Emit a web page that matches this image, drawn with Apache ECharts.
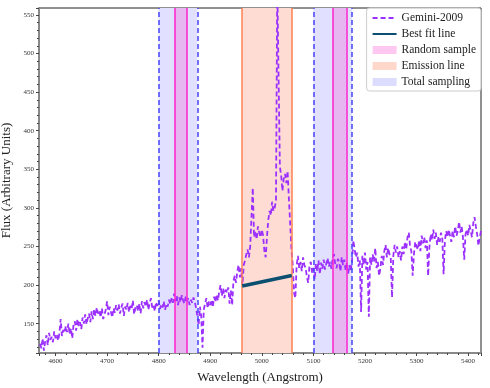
<!DOCTYPE html>
<html>
<head>
<meta charset="utf-8">
<script src="https://cdn.jsdelivr.net/npm/echarts@6/dist/echarts.min.js"></script>
<style>
  html, body { margin: 0; padding: 0; background: #fff; }
  #chart { width: 490px; height: 388px; }
</style>
</head>
<body>
<div id="chart"></div>
<script>
// Spectrum sampled every 2.5 Angstrom, starting at 4570 (one row = 50 A)
const waveStart = 4570;
const waveStep = 2.5;
const flux = [
  124, 118, 131, 115, 127, 135, 122, 138, 129, 133, 126, 140, 131, 136, 128, 137, 156, 134, 142, 138,
  147, 139, 150, 136, 144, 131, 149, 153, 141, 156, 147, 152, 143, 158, 150, 162, 149, 157, 163, 152,
  166, 156, 169, 160, 171, 163, 167, 158, 170, 156, 162, 168, 179, 161, 172, 165, 158, 170, 164, 174,
  167, 175, 163, 171, 176, 160, 172, 168, 177, 165, 173, 169, 180, 162, 171, 174, 166, 176, 163, 179,
  170, 178, 172, 181, 168, 176, 183, 171, 174, 166, 178, 173, 180, 169, 175, 171, 179, 168, 176, 172,
  181, 175, 183, 177, 189, 179, 186, 174, 184, 178, 187, 180, 176, 185, 179, 183, 174, 181, 177, 184,
  178, 171, 160, 148, 172, 160, 119, 168, 176, 183, 170, 179, 174, 181, 171, 185, 178, 188, 180, 192,
  200, 186, 196, 183, 194, 190, 197, 176, 193, 174, 205, 212, 203, 218, 226, 210, 222, 200, 226, 232,
  240, 246, 236, 250, 248, 326, 262, 270, 259, 276, 268, 262, 272, 264, 244, 236, 262, 284, 296, 290,
  308, 296, 300, 310, 590, 470, 354, 342, 322, 338, 344, 332, 348, 312, 280, 246, 226, 190, 183, 225,
  238, 222, 230, 218, 236, 226, 222, 210, 203, 226, 230, 216, 222, 207, 228, 218, 232, 214, 229, 221,
  233, 220, 228, 235, 224, 230, 221, 236, 240, 226, 222, 234, 230, 218, 236, 226, 233, 219, 229, 215,
  226, 218, 232, 258, 246, 236, 242, 224, 232, 165, 238, 226, 242, 220, 230, 159, 236, 226, 240, 230,
  248, 222, 230, 212, 222, 238, 226, 244, 252, 236, 248, 240, 236, 184, 238, 252, 242, 250, 236, 244,
  232, 250, 240, 256, 246, 262, 268, 250, 244, 212, 240, 256, 250, 246, 258, 244, 264, 254, 262, 248,
  258, 212, 250, 266, 258, 272, 260, 268, 252, 262, 256, 268, 260, 214, 258, 270, 262, 272, 264, 256,
  270, 262, 276, 264, 270, 282, 268, 276, 262, 233, 266, 272, 264, 278, 270, 262, 280, 288, 276, 266,
  251, 262, 270
];

const bestFit = [[4962, 198.7], [5058, 212.5]];
const emissionLine = [4962, 5058];
const totalSampling = [[4800, 4875], [5100, 5175]];
const randomSample = [[4831, 4855], [5138, 5164]];

const xRange = [4568, 5425];
const yRange = [112, 559];

const spectrum = flux.map((f, i) => [waveStart + i * waveStep, f]);

const font = 'Liberation Serif';

const chart = echarts.init(document.getElementById('chart'), null, { renderer: 'canvas' });

function edgeLines(ranges, color, type) {
  const data = [];
  ranges.forEach(r => { data.push({ xAxis: r[0] }, { xAxis: r[1] }); });
  return {
    silent: true, symbol: 'none', label: { show: false },
    lineStyle: { color: color, width: 1.5, type: type, opacity: 1 },
    emphasis: { disabled: true },
    data: data
  };
}

const plainLabel = v => String(v);
// hide the marker that ECharts puts in the middle of a line legend icon
const hiddenMarker = { color: 'transparent', borderWidth: 0, opacity: 0 };

const option = {
  animation: false,
  grid: {
    left: 39, right: 9, top: 8, bottom: 35, outerBoundsMode: 'none',
    show: true, borderColor: '#222', borderWidth: 1
  },
  legend: {
    right: 9, top: 8, orient: 'vertical', align: 'left',
    itemWidth: 24, itemHeight: 8, itemGap: 4,
    padding: [4, 5, 3, 5],
    backgroundColor: 'rgba(255,255,255,0.85)', borderColor: '#ccc', borderWidth: 1, borderRadius: 3,
    textStyle: { fontFamily: font, fontSize: 11.5, color: '#222' },
    data: [
      { name: 'Gemini-2009', itemStyle: hiddenMarker },
      { name: 'Best fit line', itemStyle: hiddenMarker },
      { name: 'Random sample', icon: 'rect' },
      { name: 'Emission line', icon: 'rect' },
      { name: 'Total sampling', icon: 'rect' }
    ]
  },
  xAxis: {
    type: 'value', min: xRange[0], max: xRange[1], minInterval: 100, maxInterval: 100,
    name: 'Wavelength (Angstrom)', nameLocation: 'middle', nameGap: 18,
    nameTextStyle: { fontFamily: font, fontSize: 13, color: '#222' },
    axisLine: { lineStyle: { color: '#888', width: 2 } },
    axisTick: { length: 3, lineStyle: { color: '#444' } },
    minorTick: { show: true, splitNumber: 5, length: 2, lineStyle: { color: '#444' } },
    axisLabel: { fontFamily: font, fontSize: 7, color: '#333', margin: 5, showMinLabel: false, showMaxLabel: false, formatter: plainLabel },
    splitLine: { show: false }
  },
  yAxis: {
    type: 'value', min: yRange[0], max: yRange[1], minInterval: 50, maxInterval: 50,
    name: 'Flux (Arbitrary Units)', nameLocation: 'middle', nameGap: 20,
    nameTextStyle: { fontFamily: font, fontSize: 13, color: '#222' },
    axisLine: { show: true, lineStyle: { color: '#888', width: 2 } },
    axisTick: { show: true, length: 3, lineStyle: { color: '#444' } },
    minorTick: { show: true, splitNumber: 5, length: 2, lineStyle: { color: '#444' } },
    axisLabel: { fontFamily: font, fontSize: 7, color: '#333', margin: 5, showMinLabel: false, showMaxLabel: false, formatter: plainLabel },
    splitLine: { show: false }
  },
  series: [
    {
      name: 'Total sampling', type: 'line', data: [], z: 1,
      itemStyle: { color: '#dcdcff' }, lineStyle: { color: '#dcdcff' },
      markArea: {
        silent: true, itemStyle: { color: '#e2e0ff' },
        data: totalSampling.map(r => [{ xAxis: r[0] }, { xAxis: r[1] }])
      },
      markLine: edgeLines(totalSampling, '#4444ff', [5, 3])
    },
    {
      name: 'Random sample', type: 'line', data: [], z: 2,
      itemStyle: { color: '#ffc8f0' }, lineStyle: { color: '#ffc8f0' },
      markArea: {
        silent: true, itemStyle: { color: '#e6b6f0' },
        data: randomSample.map(r => [{ xAxis: r[0] }, { xAxis: r[1] }])
      },
      markLine: edgeLines(randomSample, '#ff22cc', 'solid')
    },
    {
      name: 'Emission line', type: 'line', data: [], z: 2,
      itemStyle: { color: '#ffd8cc' }, lineStyle: { color: '#ffd8cc' },
      markArea: {
        silent: true, itemStyle: { color: '#ffdcd3' },
        data: [[{ xAxis: emissionLine[0] }, { xAxis: emissionLine[1] }]]
      },
      markLine: edgeLines([emissionLine], '#ff7f50', 'solid')
    },
    {
      name: 'Gemini-2009', type: 'line', data: spectrum, z: 4,
      showSymbol: false, clip: true,
      itemStyle: { color: '#9b30ff' },
      lineStyle: { color: '#9b30ff', width: 1.8, type: [5, 3] }
    },
    {
      name: 'Best fit line', type: 'line', data: bestFit, z: 5,
      showSymbol: false,
      itemStyle: { color: '#0b5070' },
      lineStyle: { color: '#0b5070', width: 3.5 }
    }
  ]
};

chart.setOption(option);
</script>
</body>
</html>
